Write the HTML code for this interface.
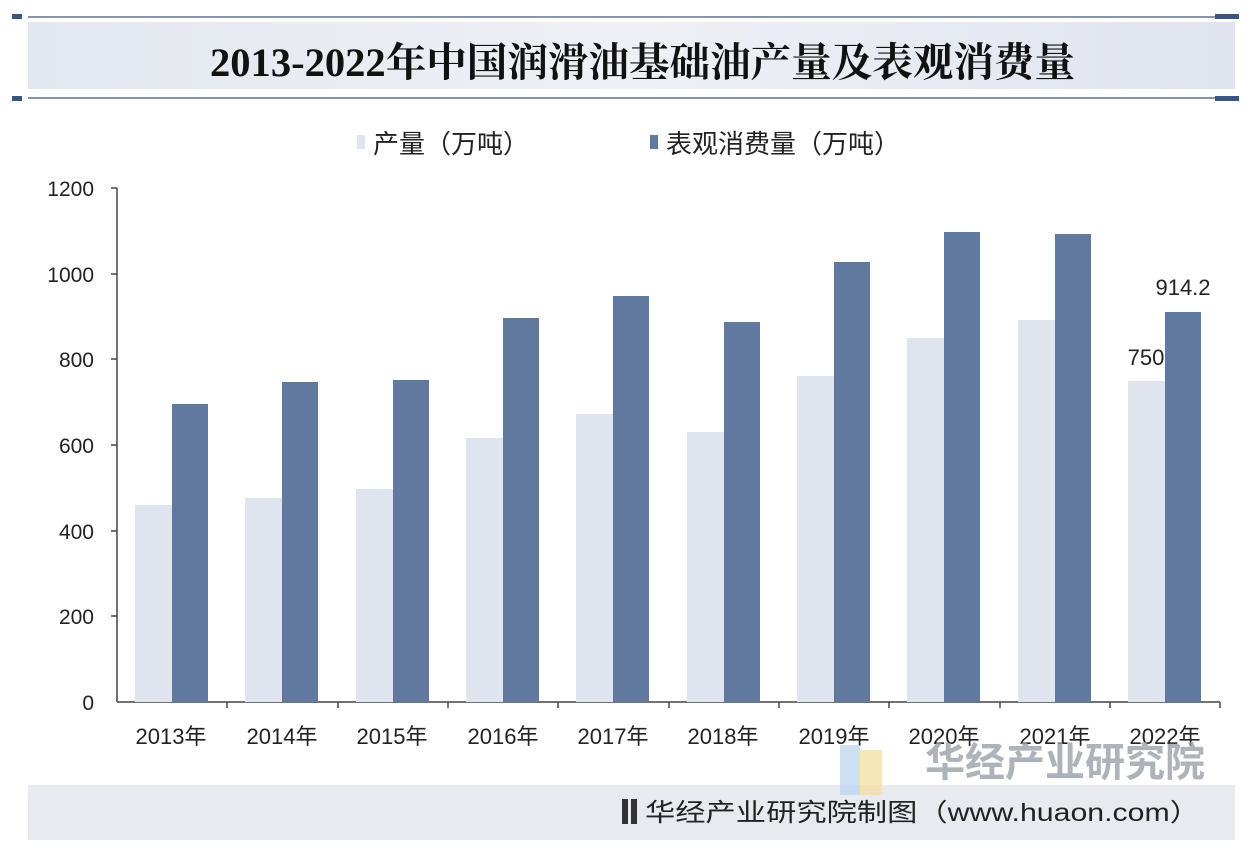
<!DOCTYPE html><html><head><meta charset="utf-8"><style>body{margin:0;background:#fff}svg{display:block}</style></head><body>
<svg width="1254" height="854" viewBox="0 0 1254 854" xmlns="http://www.w3.org/2000/svg" font-family="'Liberation Sans','Noto Sans CJK SC',sans-serif">
<defs><linearGradient id="g" x1="0" x2="1"><stop offset="0" stop-color="#e3e7ef"/><stop offset="0.5" stop-color="#eef0f5"/><stop offset="1" stop-color="#e0e4ee"/></linearGradient></defs>
<rect x="28" y="22" width="1207" height="67" fill="url(#g)"/>
<line x1="28" y1="17" x2="1235" y2="17" stroke="#8a94a8" stroke-width="2"/>
<line x1="28" y1="98" x2="1235" y2="98" stroke="#8a94a8" stroke-width="2"/>
<rect x="12" y="14" width="10" height="5" fill="#3c5580"/><rect x="1215" y="14" width="24" height="5" fill="#3c5580"/>
<rect x="12" y="96" width="10" height="5" fill="#3c5580"/><rect x="1215" y="96" width="24" height="5" fill="#3c5580"/>
<text x="210" y="76" textLength="865" lengthAdjust="spacingAndGlyphs" font-family="'Liberation Serif','Noto Serif CJK SC',serif" font-weight="bold" font-size="40" fill="#111">2013-2022年中国润滑油基础油产量及表观消费量</text>
<rect x="357" y="135" width="8" height="14" fill="#dfe4ee"/><text x="373" y="153" font-size="26" fill="#222">产量（万吨）</text>
<rect x="650" y="135" width="8" height="14" fill="#62799f"/><text x="666" y="153" font-size="26" fill="#222">表观消费量（万吨）</text>
<g font-size="21" fill="#222" text-anchor="end">
<text x="94" y="196">1200</text><text x="94" y="282">1000</text><text x="94" y="367">800</text><text x="94" y="453">600</text><text x="94" y="539">400</text><text x="94" y="624">200</text><text x="94" y="710">0</text></g>
<line x1="117" y1="188" x2="117" y2="702" stroke="#444" stroke-width="1.5"/>
<g stroke="#444" stroke-width="1.5"><line x1="111" y1="188" x2="117" y2="188"/><line x1="111" y1="274" x2="117" y2="274"/><line x1="111" y1="359" x2="117" y2="359"/><line x1="111" y1="445" x2="117" y2="445"/><line x1="111" y1="531" x2="117" y2="531"/><line x1="111" y1="616" x2="117" y2="616"/></g>
<line x1="117" y1="702" x2="1220" y2="702" stroke="#444" stroke-width="1.5"/>
<g fill="#dfe4ee">
<rect x="135" y="505" width="37" height="197"/><rect x="245" y="498" width="37" height="204"/><rect x="356" y="489" width="37" height="213"/><rect x="466" y="438" width="37" height="264"/><rect x="576" y="414" width="37" height="288"/><rect x="687" y="432" width="37" height="270"/><rect x="797" y="376" width="37" height="326"/><rect x="907" y="338" width="37" height="364"/><rect x="1018" y="320" width="37" height="382"/><rect x="1128" y="381" width="37" height="321"/></g>
<g fill="#62799f">
<rect x="172" y="404" width="36" height="298"/><rect x="282" y="382" width="36" height="320"/><rect x="393" y="380" width="36" height="322"/><rect x="503" y="318" width="36" height="384"/><rect x="613" y="296" width="36" height="406"/><rect x="724" y="322" width="36" height="380"/><rect x="834" y="262" width="36" height="440"/><rect x="944" y="232" width="36" height="470"/><rect x="1055" y="234" width="36" height="468"/><rect x="1165" y="312" width="36" height="390"/></g>
<g stroke="#444" stroke-width="1.5"><line x1="227" y1="702" x2="227" y2="708"/><line x1="338" y1="702" x2="338" y2="708"/><line x1="448" y1="702" x2="448" y2="708"/><line x1="558" y1="702" x2="558" y2="708"/><line x1="669" y1="702" x2="669" y2="708"/><line x1="779" y1="702" x2="779" y2="708"/><line x1="889" y1="702" x2="889" y2="708"/><line x1="1000" y1="702" x2="1000" y2="708"/><line x1="1110" y1="702" x2="1110" y2="708"/><line x1="1220" y1="702" x2="1220" y2="708"/></g>
<g font-size="22" fill="#222" text-anchor="middle">
<text x="171" y="744">2013年</text><text x="282" y="744">2014年</text><text x="392" y="744">2015年</text><text x="503" y="744">2016年</text><text x="613" y="744">2017年</text><text x="723" y="744">2018年</text><text x="834" y="744">2019年</text><text x="944" y="744">2020年</text><text x="1055" y="744">2021年</text><text x="1165" y="744">2022年</text>
<text x="1146" y="365">750</text><text x="1183" y="295">914.2</text></g>
<rect x="28" y="785" width="1207" height="55" fill="#e8eaef"/>
<rect x="840" y="745" width="20" height="50" fill="#b9d3ef" opacity="0.7"/><rect x="860" y="750" width="22" height="45" fill="#f3dc9a" opacity="0.7"/>
<text x="1065" y="776" text-anchor="middle" font-size="40" font-weight="bold" fill="#9aa0a8" opacity="0.8">华经产业研究院</text>
<rect x="622" y="799" width="6" height="25" fill="#333"/><rect x="631" y="799" width="6" height="25" fill="#333"/>
<text x="645" y="821" textLength="555" lengthAdjust="spacingAndGlyphs" font-size="25" fill="#222">华经产业研究院制图（www.huaon.com）</text>
</svg></body></html>
